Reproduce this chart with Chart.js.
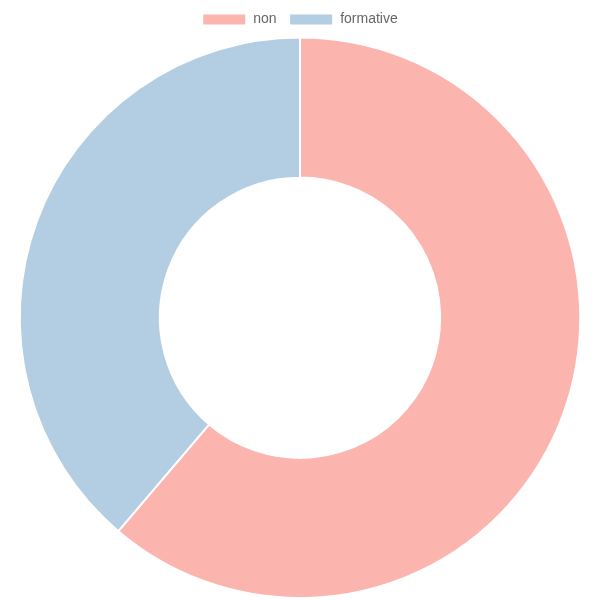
<!DOCTYPE html>
<html>
<head>
<meta charset="utf-8">
<script src="https://cdn.jsdelivr.net/npm/chart.js@4"></script>
<style>
  html, body { margin: 0; padding: 0; background: #fff; }
  #wrap { width: 600px; height: 600px; }
</style>
</head>
<body>
<div id="wrap"><canvas id="chart"></canvas></div>
<script>
const labels = ['non', 'formative'];
const counts = [30, 19];
const colors = ['#FBB4AE', '#B3CDE3'];

const data = {
    labels: labels,
    datasets: [
        {
            data: counts,
            backgroundColor: colors,
            borderColor: '#fff',
            borderWidth: 2,
        }
    ]
};

const options = {
    responsive: true,
    maintainAspectRatio: false,
    animation: false,
    cutout: '50%',
    layout: { padding: { top: 0, bottom: 1, left: 0, right: 0 } },
    plugins: {
        legend: {
            position: 'top',
            labels: {
                boxWidth: 44,
                boxHeight: 12,
                padding: 12.5,
                color: '#666',
                font: { family: 'Liberation Sans, Arial, sans-serif', size: 14 },
            }
        },
        tooltip: { enabled: false }
    }
};

new Chart(document.getElementById('chart'), { type: 'doughnut', data: data, options: options });
</script>
</body>
</html>
